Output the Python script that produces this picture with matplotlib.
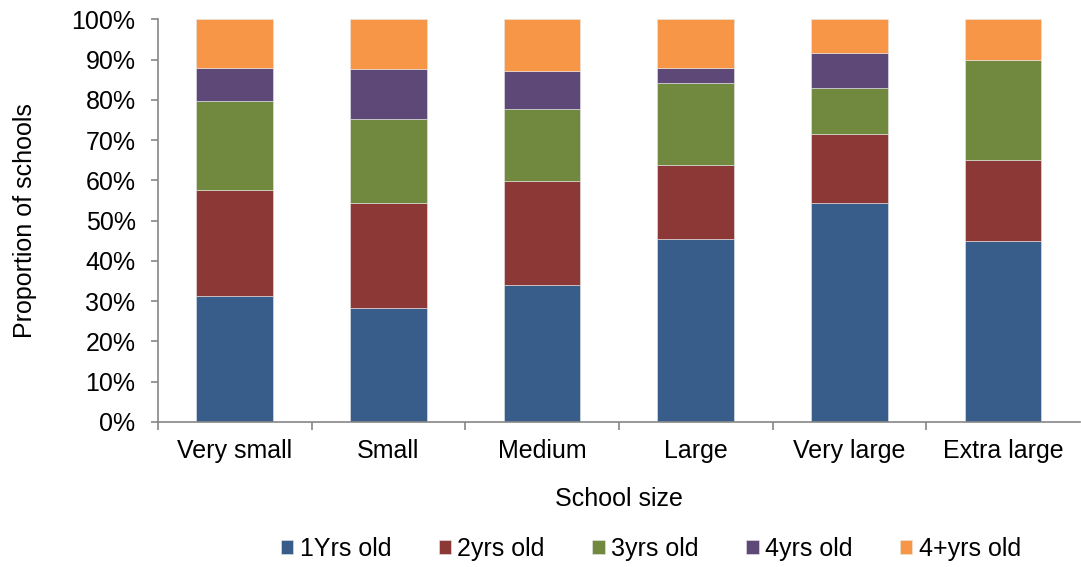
import numpy as np
import matplotlib.pyplot as plt
from matplotlib.ticker import PercentFormatter

plt.rcParams['font.family'] = ['Liberation Sans', 'DejaVu Sans']

categories = ['Very small', 'Small', 'Medium', 'Large', 'Very large', 'Extra large']
series_names = ['1Yrs old', '2yrs old', '3yrs old', '4yrs old', '4+yrs old']
yr1 = [31.2, 28.4, 33.9, 45.3, 54.3, 45.0]
yr2 = [26.3, 25.9, 26.0, 18.6, 17.1, 20.0]
yr3 = [22.3, 20.9, 17.7, 20.2, 11.5, 25.0]
yr4 = [8.1, 12.4, 9.6, 3.8, 8.6, 0.0]
yr4plus = [12.1, 12.4, 12.8, 12.1, 8.5, 10.0]
colors = ['#385D8A', '#8C3836', '#71893F', '#5E4878', '#F79646']


def main():
    fig = plt.figure(figsize=(10.81, 5.67), dpi=100)
    ax = fig.add_axes([0.146, 0.256, 0.853, 0.71])

    x = np.arange(len(categories))
    bottom = np.zeros(len(categories))
    for name, vals, col in zip(series_names, [yr1, yr2, yr3, yr4, yr4plus], colors):
        vals = np.array(vals)
        ax.bar(x, vals, 0.5, bottom=bottom, color=col, label=name,
               edgecolor='#e8e8e8', linewidth=0.4)
        bottom += vals

    ax.set_xlim(-0.5, 5.5)
    ax.set_ylim(0, 100)
    ax.set_yticks(np.arange(0, 101, 10))
    ax.yaxis.set_major_formatter(PercentFormatter(decimals=0))
    ax.set_xticks(x)
    ax.set_xticklabels(categories)
    # separators between categories drawn as minor ticks
    ax.set_xticks(np.arange(-0.5, 5.5, 1), minor=True)
    ax.tick_params(axis='x', which='major', length=0, pad=12, labelsize=18)
    ax.tick_params(axis='x', which='minor', length=6, color='#868686', width=1.2)
    ax.tick_params(axis='y', length=5, color='#868686', width=1.2, labelsize=18, pad=11)

    for s in ['top', 'right']:
        ax.spines[s].set_visible(False)
    for s in ['left', 'bottom']:
        ax.spines[s].set_color('#868686')
        ax.spines[s].set_linewidth(1.2)

    ax.set_ylabel('Proportion of schools', fontsize=18)
    ax.set_xlabel('School size', fontsize=18)
    ax.yaxis.set_label_coords(-0.131, 0.5)
    ax.xaxis.set_label_coords(0.5, -0.163)

    fig.legend(loc='center', bbox_to_anchor=(0.602, 0.032), ncol=5, frameon=False,
               fontsize=18, handlelength=0.5, handleheight=0.5, handletextpad=0.25,
               columnspacing=1.9)

    plt.savefig('out.png')


if __name__ == "__main__":
    main()
